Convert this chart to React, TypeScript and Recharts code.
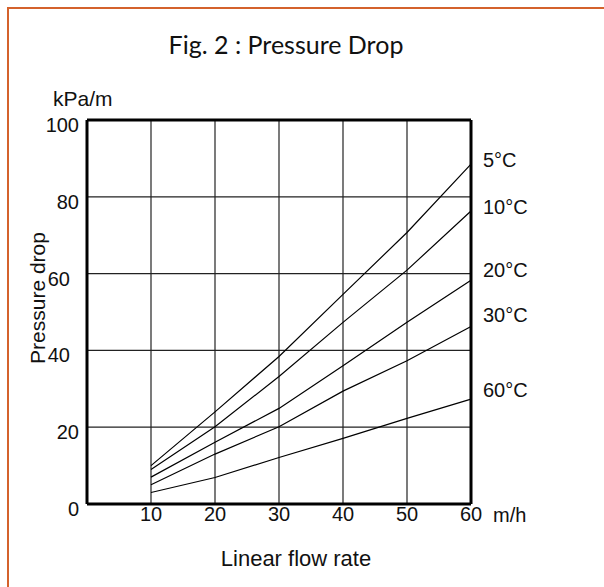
import React from 'react';
import {
  LineChart,
  Line,
  XAxis,
  YAxis,
  CartesianGrid,
  ReferenceLine,
  LabelList,
} from 'recharts';

const flowRates = [10, 20, 30, 40, 50, 60];
const drop5 = [10, 24, 38.4, 54.6, 70.7, 88.5];
const drop10 = [9, 20.1, 33.2, 47.3, 60.9, 76.3];
const drop20 = [7, 16.1, 24.9, 36, 47.3, 58.3];
const drop30 = [5, 13, 20.1, 29.4, 37.3, 46.2];
const drop60 = [3, 6.9, 12.1, 17.1, 22.3, 27.3];

const xTicks = [10, 20, 30, 40, 50, 60];
const yTicks = [0, 20, 40, 60, 80, 100];

const series = [
  { key: 't5', name: '5°C', values: drop5, labelDy: -4 },
  { key: 't10', name: '10°C', values: drop10, labelDy: -4 },
  { key: 't20', name: '20°C', values: drop20, labelDy: -10 },
  { key: 't30', name: '30°C', values: drop30, labelDy: -12 },
  { key: 't60', name: '60°C', values: drop60, labelDy: -9 },
];

const data = flowRates.map((x, i) => {
  const row: Record<string, number> = { x };
  series.forEach((s) => (row[s.key] = s.values[i]));
  return row;
});

const font = 'Arial, "Liberation Sans", sans-serif';

const YTick = ({ x, y, payload }: any) => {
  // the 40 and 60 labels sit a little further left in the original
  const shift = payload.value === 40 || payload.value === 60 ? 9 : 0;
  return (
    <text
      x={x - shift}
      y={y + 5}
      textAnchor="end"
      dominantBaseline="central"
      fontSize={20}
      fontFamily={font}
      fill="#111"
    >
      {payload.value}
    </text>
  );
};

const endLabel = (name: string, dy: number, last: number) => (props: any) => {
  if (props.index !== last) return null;
  return (
    <text
      x={props.x + 12}
      y={props.y + dy}
      dominantBaseline="central"
      fontSize={20}
      fontFamily={font}
      fill="#111"
    >
      {name}
    </text>
  );
};

export default function App() {
  return (
    <div
      style={{
        position: 'absolute',
        left: 0,
        top: 0,
        width: 604,
        height: 587,
        background: '#fff',
        overflow: 'hidden',
        fontFamily: font,
      }}
    >
      <div
        style={{
          position: 'absolute',
          left: 7,
          top: 7,
          width: 700,
          height: 700,
          borderTop: '2px solid #d4622c',
          borderLeft: '2px solid #d4622c',
        }}
      />
      <div
        style={{
          position: 'absolute',
          left: 0,
          width: 572,
          top: 29,
          textAlign: 'center',
          fontFamily: 'Lato, "Open Sans", sans-serif',
          fontSize: 25,
          color: '#111',
        }}
      >
        Fig. 2 : Pressure Drop
      </div>
      <div style={{ position: 'absolute', left: 53, top: 87, fontSize: 21, color: '#111' }}>
        kPa/m
      </div>
      <div style={{ position: 'absolute', left: 493, top: 504, fontSize: 20, color: '#111' }}>
        m/h
      </div>
      <div
        style={{
          position: 'absolute',
          left: 0,
          width: 592,
          top: 546,
          textAlign: 'center',
          fontSize: 22,
          color: '#111',
        }}
      >
        Linear flow rate
      </div>
      <div
        style={{
          position: 'absolute',
          left: 38,
          top: 298,
          transform: 'translate(-50%, -50%) rotate(-90deg)',
          fontSize: 21,
          color: '#111',
          whiteSpace: 'nowrap',
        }}
      >
        Pressure drop
      </div>
      <LineChart
        width={604}
        height={587}
        data={data}
        margin={{ top: 120, right: 133, bottom: 53, left: 27 }}
        style={{ position: 'absolute', left: 0, top: 0 }}
      >
        <CartesianGrid stroke="#222" strokeWidth={1.2} />
        <XAxis
          dataKey="x"
          type="number"
          domain={[0, 60]}
          ticks={xTicks}
          height={30}
          axisLine={{ stroke: '#000', strokeWidth: 3 }}
          tickLine={false}
          tickSize={2}
          tickMargin={1}
          tick={{ fontSize: 20, fontFamily: font, fill: '#111' }}
        />
        <YAxis
          type="number"
          domain={[0, 100]}
          ticks={yTicks}
          width={60}
          axisLine={{ stroke: '#000', strokeWidth: 3 }}
          tickLine={false}
          tick={<YTick />}
        />
        <ReferenceLine y={100} stroke="#000" strokeWidth={3} />
        <ReferenceLine x={60} stroke="#000" strokeWidth={3} />
        {series.map((s) => (
          <Line
            key={s.key}
            dataKey={s.key}
            type="linear"
            stroke="#000"
            strokeWidth={1.2}
            dot={false}
            isAnimationActive={false}
          >
            <LabelList
              dataKey={s.key}
              content={endLabel(s.name, s.labelDy, flowRates.length - 1)}
            />
          </Line>
        ))}
      </LineChart>
    </div>
  );
}
